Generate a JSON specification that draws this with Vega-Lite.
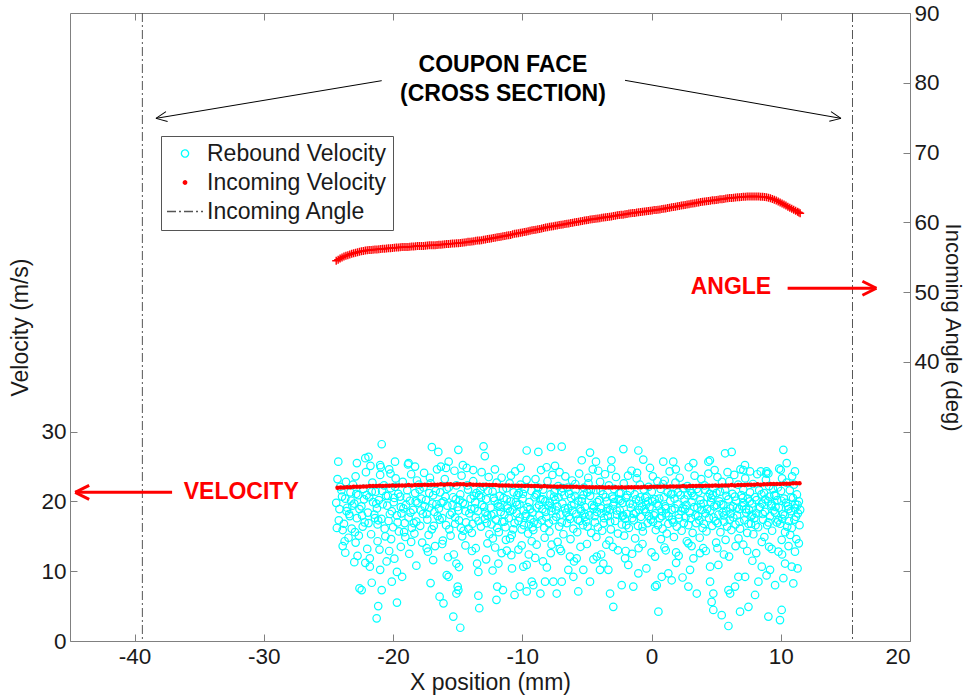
{
  "$schema": "https://vega.github.io/schema/vega-lite/v6.json",
  "width": 840,
  "height": 628,
  "autosize": {"type": "none"},
  "padding": {"left": 70, "top": 13, "right": 57, "bottom": 57},
  "background": "white",
  "config": {
    "view": {"stroke": null},
    "font": "Liberation Sans",
    "axis": {
      "grid": false,
      "domainColor": "#808080",
      "tickColor": "#808080",
      "labelColor": "#1a1a1a",
      "titleColor": "#1a1a1a",
      "labelFont": "Liberation Sans",
      "titleFont": "Liberation Sans",
      "labelFontSize": 22.5,
      "titleFontSize": 23,
      "titleFontWeight": "normal",
      "tickSize": -7,
      "labelPadding": 11,
      "labelExpr": "'' + datum.value"
    },
    "legend": {
      "labelFont": "Liberation Sans",
      "labelFontSize": 23,
      "labelColor": "#1a1a1a",
      "labelLimit": 0,
      "title": null,
      "orient": "none",
      "legendX": 91,
      "legendY": 123,
      "padding": 6,
      "strokeColor": "#555555",
      "fillColor": "white",
      "symbolSize": 1296,
      "rowPadding": 5,
      "symbolOffset": 0,
      "labelOffset": 3,
      "symbolStrokeWidth": 1.3
    }
  },
  "datasets": {
    "rebound": [
      {"x":-24.4,"v":19.8},{"x":-24.2,"v":17.3},{"x":-24.0,"v":21.6},{"x":-23.9,"v":15.9},{"x":-23.7,"v":20.4},{"x":-23.6,"v":18.6},{"x":-24.3,"v":23.2},{"x":-23.8,"v":16.8},{"x":-24.1,"v":22.1},{"x":-23.55,"v":19.1},
      {"x":-23.4,"v":18.2},{"x":-23.3,"v":21.3},{"x":-23.2,"v":16.1},{"x":-23.0,"v":19.7},{"x":-22.9,"v":23.6},{"x":-22.8,"v":17.6},{"x":-22.7,"v":20.9},{"x":-23.45,"v":14.8},{"x":-23.1,"v":22.4},{"x":-22.6,"v":18.9},{"x":-22.95,"v":15.6},{"x":-23.25,"v":20.1},
      {"x":-22.45,"v":19.3},{"x":-22.3,"v":21.8},{"x":-22.2,"v":17.0},{"x":-22.1,"v":24.2},{"x":-21.95,"v":18.4},{"x":-21.85,"v":20.6},{"x":-21.7,"v":15.3},{"x":-21.6,"v":22.7},{"x":-21.55,"v":19.9},{"x":-22.35,"v":16.4},{"x":-22.05,"v":20.9},{"x":-21.75,"v":25.1},
      {"x":-21.45,"v":18.1},{"x":-21.35,"v":21.4},{"x":-21.2,"v":16.7},{"x":-21.1,"v":20.2},{"x":-21.0,"v":23.8},{"x":-20.9,"v":17.5},{"x":-20.8,"v":19.6},{"x":-20.7,"v":22.3},{"x":-20.6,"v":15.0},{"x":-20.55,"v":20.8},{"x":-21.25,"v":19.0},{"x":-20.95,"v":24.9},{"x":-21.4,"v":17.6},
      {"x":-20.45,"v":19.4},{"x":-20.35,"v":17.2},{"x":-20.2,"v":21.9},{"x":-20.1,"v":18.6},{"x":-20.0,"v":16.3},{"x":-19.9,"v":20.5},{"x":-19.8,"v":23.3},{"x":-19.7,"v":18.0},{"x":-19.6,"v":21.1},{"x":-19.55,"v":15.7},{"x":-20.3,"v":24.6},{"x":-19.95,"v":19.9},{"x":-20.15,"v":14.6},
      {"x":-19.45,"v":20.7},{"x":-19.35,"v":18.3},{"x":-19.25,"v":22.8},{"x":-19.1,"v":16.9},{"x":-19.0,"v":19.5},{"x":-18.9,"v":21.6},{"x":-18.8,"v":17.7},{"x":-18.7,"v":20.1},{"x":-18.6,"v":23.9},{"x":-18.55,"v":16.2},{"x":-19.2,"v":19.0},{"x":-18.85,"v":25.3},{"x":-19.05,"v":14.9},
      {"x":-18.45,"v":18.8},{"x":-18.3,"v":21.2},{"x":-18.2,"v":17.1},{"x":-18.1,"v":19.8},{"x":-18.0,"v":22.4},{"x":-17.9,"v":16.5},{"x":-17.8,"v":20.4},{"x":-17.7,"v":18.2},{"x":-17.6,"v":24.1},{"x":-17.55,"v":19.3},{"x":-18.35,"v":15.4},{"x":-17.95,"v":21.7},{"x":-18.15,"v":23.0},
      {"x":-17.45,"v":20.2},{"x":-17.35,"v":17.4},{"x":-17.2,"v":19.1},{"x":-17.1,"v":22.6},{"x":-17.0,"v":16.0},{"x":-16.9,"v":20.9},{"x":-16.8,"v":18.5},{"x":-16.7,"v":21.5},{"x":-16.6,"v":24.6},{"x":-16.55,"v":17.9},{"x":-17.25,"v":15.2},{"x":-16.95,"v":19.7},{"x":-17.15,"v":23.4},
      {"x":-16.45,"v":19.0},{"x":-16.35,"v":21.3},{"x":-16.2,"v":17.6},{"x":-16.1,"v":20.0},{"x":-16.0,"v":23.2},{"x":-15.9,"v":16.6},{"x":-15.8,"v":19.4},{"x":-15.7,"v":22.0},{"x":-15.6,"v":18.1},{"x":-15.55,"v":15.1},{"x":-16.3,"v":25.0},{"x":-15.95,"v":20.7},{"x":-16.15,"v":14.4},
      {"x":-15.45,"v":18.4},{"x":-15.35,"v":20.6},{"x":-15.2,"v":16.8},{"x":-15.1,"v":22.3},{"x":-15.0,"v":19.2},{"x":-14.9,"v":17.3},{"x":-14.8,"v":21.0},{"x":-14.7,"v":23.7},{"x":-14.6,"v":19.8},{"x":-14.55,"v":15.8},{"x":-15.25,"v":24.4},{"x":-14.95,"v":18.7},{"x":-15.15,"v":20.3},{"x":-14.75,"v":16.2},
      {"x":-14.45,"v":19.6},{"x":-14.35,"v":17.0},{"x":-14.2,"v":21.7},{"x":-14.1,"v":18.3},{"x":-14.0,"v":20.4},{"x":-13.9,"v":15.5},{"x":-13.8,"v":22.9},{"x":-13.7,"v":19.0},{"x":-13.6,"v":17.7},{"x":-13.55,"v":21.2},{"x":-14.3,"v":24.8},{"x":-13.95,"v":18.9},{"x":-14.15,"v":16.1},{"x":-13.75,"v":20.8},
      {"x":-13.45,"v":18.6},{"x":-13.35,"v":20.9},{"x":-13.2,"v":16.4},{"x":-13.1,"v":19.5},{"x":-13.0,"v":22.1},{"x":-12.9,"v":17.5},{"x":-12.8,"v":20.3},{"x":-12.7,"v":18.0},{"x":-12.6,"v":23.5},{"x":-12.55,"v":15.3},{"x":-13.25,"v":21.6},{"x":-12.95,"v":19.2},{"x":-13.15,"v":24.2},{"x":-12.75,"v":16.9},
      {"x":-12.45,"v":19.1},{"x":-12.38,"v":16.7},{"x":-12.3,"v":21.4},{"x":-12.22,"v":18.2},{"x":-12.15,"v":20.1},{"x":-12.05,"v":17.4},{"x":-11.98,"v":22.7},{"x":-11.9,"v":19.7},{"x":-11.82,"v":15.6},{"x":-11.75,"v":20.8},{"x":-11.67,"v":18.5},{"x":-11.6,"v":23.4},{"x":-11.55,"v":17.1},{"x":-12.12,"v":24.6},{"x":-11.85,"v":19.3},{"x":-12.28,"v":14.7},
      {"x":-11.45,"v":20.5},{"x":-11.38,"v":18.1},{"x":-11.3,"v":16.3},{"x":-11.22,"v":21.9},{"x":-11.15,"v":19.4},{"x":-11.05,"v":17.6},{"x":-10.98,"v":22.6},{"x":-10.9,"v":20.0},{"x":-10.82,"v":15.2},{"x":-10.75,"v":18.8},{"x":-10.67,"v":21.3},{"x":-10.6,"v":16.9},{"x":-10.55,"v":24.3},{"x":-11.12,"v":19.0},{"x":-10.88,"v":23.7},{"x":-11.27,"v":14.5},
      {"x":-10.45,"v":18.3},{"x":-10.38,"v":20.9},{"x":-10.3,"v":17.2},{"x":-10.22,"v":19.6},{"x":-10.15,"v":22.4},{"x":-10.05,"v":16.0},{"x":-9.98,"v":20.4},{"x":-9.9,"v":18.7},{"x":-9.82,"v":21.8},{"x":-9.75,"v":17.9},{"x":-9.67,"v":23.1},{"x":-9.6,"v":19.2},{"x":-9.55,"v":15.4},{"x":-10.12,"v":24.8},{"x":-9.88,"v":16.6},{"x":-10.27,"v":21.2},
      {"x":-9.45,"v":19.9},{"x":-9.38,"v":17.5},{"x":-9.3,"v":21.5},{"x":-9.22,"v":18.4},{"x":-9.15,"v":15.9},{"x":-9.05,"v":20.6},{"x":-8.98,"v":23.2},{"x":-8.9,"v":19.1},{"x":-8.82,"v":16.8},{"x":-8.75,"v":22.0},{"x":-8.67,"v":18.0},{"x":-8.6,"v":20.3},{"x":-8.55,"v":24.5},{"x":-9.12,"v":17.0},{"x":-8.88,"v":21.1},{"x":-9.27,"v":14.3},
      {"x":-8.45,"v":18.9},{"x":-8.38,"v":21.7},{"x":-8.3,"v":16.2},{"x":-8.22,"v":20.0},{"x":-8.15,"v":17.7},{"x":-8.05,"v":22.9},{"x":-7.98,"v":19.4},{"x":-7.9,"v":15.7},{"x":-7.82,"v":21.0},{"x":-7.75,"v":18.6},{"x":-7.67,"v":23.8},{"x":-7.6,"v":17.3},{"x":-7.55,"v":20.7},{"x":-8.12,"v":24.9},{"x":-7.88,"v":19.8},{"x":-8.27,"v":14.8},
      {"x":-7.45,"v":20.2},{"x":-7.38,"v":17.8},{"x":-7.3,"v":19.3},{"x":-7.22,"v":22.2},{"x":-7.15,"v":16.4},{"x":-7.05,"v":18.1},{"x":-6.98,"v":21.4},{"x":-6.9,"v":19.7},{"x":-6.82,"v":15.3},{"x":-6.75,"v":20.9},{"x":-6.67,"v":23.6},{"x":-6.6,"v":18.4},{"x":-6.55,"v":16.9},{"x":-7.12,"v":24.2},{"x":-6.88,"v":21.9},{"x":-7.27,"v":14.2},
      {"x":-6.45,"v":19.0},{"x":-6.38,"v":21.1},{"x":-6.3,"v":17.5},{"x":-6.22,"v":20.5},{"x":-6.15,"v":23.0},{"x":-6.05,"v":16.1},{"x":-5.98,"v":19.6},{"x":-5.9,"v":22.5},{"x":-5.82,"v":18.2},{"x":-5.75,"v":15.6},{"x":-5.67,"v":20.1},{"x":-5.6,"v":24.0},{"x":-5.55,"v":17.2},{"x":-6.12,"v":18.7},{"x":-5.88,"v":21.6},{"x":-6.27,"v":14.6},
      {"x":-5.45,"v":18.6},{"x":-5.38,"v":20.4},{"x":-5.3,"v":16.6},{"x":-5.22,"v":22.0},{"x":-5.15,"v":19.2},{"x":-5.05,"v":17.1},{"x":-4.98,"v":21.3},{"x":-4.9,"v":23.4},{"x":-4.82,"v":18.0},{"x":-4.75,"v":20.8},{"x":-4.67,"v":15.5},{"x":-4.6,"v":19.5},{"x":-4.55,"v":24.6},{"x":-5.12,"v":17.8},{"x":-4.88,"v":22.6},{"x":-5.27,"v":20.9},
      {"x":-4.45,"v":19.3},{"x":-4.38,"v":17.0},{"x":-4.3,"v":21.6},{"x":-4.22,"v":18.5},{"x":-4.15,"v":16.3},{"x":-4.05,"v":20.2},{"x":-3.98,"v":22.8},{"x":-3.9,"v":19.0},{"x":-3.82,"v":15.8},{"x":-3.75,"v":21.0},{"x":-3.67,"v":17.6},{"x":-3.6,"v":23.9},{"x":-3.55,"v":20.6},{"x":-4.12,"v":24.4},{"x":-3.88,"v":18.3},{"x":-4.27,"v":14.9},
      {"x":-3.45,"v":20.0},{"x":-3.38,"v":17.9},{"x":-3.3,"v":22.3},{"x":-3.22,"v":18.8},{"x":-3.15,"v":16.0},{"x":-3.05,"v":20.7},{"x":-2.98,"v":19.4},{"x":-2.9,"v":21.8},{"x":-2.82,"v":17.2},{"x":-2.75,"v":23.5},{"x":-2.67,"v":18.1},{"x":-2.6,"v":15.4},{"x":-2.55,"v":20.3},{"x":-3.12,"v":24.7},{"x":-2.88,"v":19.9},{"x":-3.27,"v":14.4},
      {"x":-2.45,"v":18.7},{"x":-2.38,"v":21.2},{"x":-2.3,"v":16.7},{"x":-2.22,"v":19.8},{"x":-2.15,"v":22.6},{"x":-2.05,"v":17.5},{"x":-1.98,"v":20.5},{"x":-1.9,"v":18.2},{"x":-1.82,"v":23.7},{"x":-1.75,"v":16.2},{"x":-1.67,"v":21.5},{"x":-1.6,"v":19.1},{"x":-1.55,"v":24.4},{"x":-2.12,"v":15.1},{"x":-1.88,"v":20.9},{"x":-2.27,"v":17.9},
      {"x":-1.45,"v":19.6},{"x":-1.38,"v":17.3},{"x":-1.3,"v":21.0},{"x":-1.22,"v":18.4},{"x":-1.15,"v":23.3},{"x":-1.05,"v":16.5},{"x":-0.98,"v":20.1},{"x":-0.9,"v":22.4},{"x":-0.82,"v":17.8},{"x":-0.75,"v":19.3},{"x":-0.67,"v":15.7},{"x":-0.6,"v":21.7},{"x":-0.55,"v":18.9},{"x":-1.12,"v":24.1},{"x":-0.88,"v":20.6},{"x":-1.27,"v":14.7},
      {"x":-0.45,"v":18.5},{"x":-0.38,"v":20.7},{"x":-0.3,"v":16.9},{"x":-0.22,"v":22.1},{"x":-0.15,"v":19.2},{"x":-0.05,"v":17.4},{"x":0.02,"v":21.4},{"x":0.1,"v":23.6},{"x":0.18,"v":18.0},{"x":0.25,"v":20.3},{"x":0.33,"v":15.9},{"x":0.4,"v":19.7},{"x":0.45,"v":22.9},{"x":-0.12,"v":24.8},{"x":0.12,"v":17.1},{"x":-0.27,"v":20.0},
      {"x":0.55,"v":19.4},{"x":0.62,"v":17.6},{"x":0.7,"v":21.8},{"x":0.78,"v":18.6},{"x":0.85,"v":16.1},{"x":0.95,"v":20.6},{"x":1.02,"v":23.0},{"x":1.1,"v":19.0},{"x":1.18,"v":15.4},{"x":1.25,"v":21.3},{"x":1.33,"v":17.9},{"x":1.4,"v":24.3},{"x":1.45,"v":20.1},{"x":0.88,"v":22.5},{"x":1.12,"v":18.3},{"x":0.73,"v":14.6},
      {"x":1.55,"v":18.8},{"x":1.62,"v":21.1},{"x":1.7,"v":17.0},{"x":1.78,"v":20.4},{"x":1.85,"v":22.7},{"x":1.95,"v":16.4},{"x":2.02,"v":19.6},{"x":2.1,"v":18.1},{"x":2.18,"v":23.4},{"x":2.25,"v":20.9},{"x":2.33,"v":15.8},{"x":2.4,"v":19.1},{"x":2.45,"v":21.9},{"x":1.88,"v":24.6},{"x":2.12,"v":17.6},{"x":1.73,"v":14.9},
      {"x":2.55,"v":20.3},{"x":2.62,"v":17.7},{"x":2.7,"v":19.5},{"x":2.78,"v":22.2},{"x":2.85,"v":16.6},{"x":2.95,"v":18.4},{"x":3.02,"v":21.5},{"x":3.1,"v":19.9},{"x":3.18,"v":15.5},{"x":3.25,"v":20.8},{"x":3.33,"v":23.7},{"x":3.4,"v":18.0},{"x":3.45,"v":16.9},{"x":2.88,"v":24.9},{"x":3.12,"v":21.2},{"x":2.73,"v":14.3},
      {"x":3.55,"v":19.1},{"x":3.62,"v":21.4},{"x":3.7,"v":17.3},{"x":3.78,"v":20.2},{"x":3.85,"v":23.2},{"x":3.95,"v":16.2},{"x":4.02,"v":19.7},{"x":4.1,"v":22.3},{"x":4.18,"v":18.3},{"x":4.25,"v":15.7},{"x":4.33,"v":20.6},{"x":4.4,"v":24.0},{"x":4.45,"v":17.6},{"x":3.88,"v":18.8},{"x":4.12,"v":21.7},{"x":3.73,"v":14.8},
      {"x":4.55,"v":18.7},{"x":4.62,"v":20.5},{"x":4.7,"v":16.5},{"x":4.78,"v":21.9},{"x":4.85,"v":19.3},{"x":4.95,"v":17.2},{"x":5.02,"v":21.2},{"x":5.1,"v":23.5},{"x":5.18,"v":18.1},{"x":5.25,"v":20.0},{"x":5.33,"v":15.6},{"x":5.4,"v":19.6},{"x":5.45,"v":22.8},{"x":4.88,"v":24.5},{"x":5.12,"v":16.9},{"x":4.73,"v":20.9},
      {"x":5.55,"v":19.5},{"x":5.62,"v":17.1},{"x":5.7,"v":21.6},{"x":5.78,"v":18.6},{"x":5.85,"v":16.4},{"x":5.95,"v":20.3},{"x":6.02,"v":22.9},{"x":6.1,"v":19.0},{"x":6.18,"v":15.9},{"x":6.25,"v":21.1},{"x":6.33,"v":17.7},{"x":6.4,"v":23.8},{"x":6.45,"v":20.7},{"x":5.88,"v":24.2},{"x":6.12,"v":18.2},{"x":5.73,"v":14.5},
      {"x":6.55,"v":20.1},{"x":6.62,"v":18.0},{"x":6.7,"v":22.4},{"x":6.78,"v":18.9},{"x":6.85,"v":16.1},{"x":6.95,"v":20.9},{"x":7.02,"v":19.3},{"x":7.1,"v":21.7},{"x":7.18,"v":17.3},{"x":7.25,"v":23.3},{"x":7.33,"v":18.4},{"x":7.4,"v":15.5},{"x":7.45,"v":20.4},{"x":6.88,"v":24.6},{"x":7.12,"v":19.8},{"x":6.73,"v":14.7},
      {"x":7.55,"v":18.8},{"x":7.62,"v":21.3},{"x":7.7,"v":16.8},{"x":7.78,"v":19.7},{"x":7.85,"v":22.5},{"x":7.95,"v":17.6},{"x":8.02,"v":20.6},{"x":8.1,"v":18.3},{"x":8.18,"v":23.9},{"x":8.25,"v":16.3},{"x":8.33,"v":21.6},{"x":8.4,"v":19.2},{"x":8.45,"v":24.3},{"x":7.88,"v":15.3},{"x":8.12,"v":20.2},{"x":7.73,"v":17.9},
      {"x":8.55,"v":19.7},{"x":8.62,"v":17.4},{"x":8.7,"v":21.2},{"x":8.78,"v":18.5},{"x":8.85,"v":23.1},{"x":8.95,"v":16.6},{"x":9.02,"v":20.0},{"x":9.1,"v":22.2},{"x":9.18,"v":17.9},{"x":9.25,"v":19.4},{"x":9.33,"v":15.8},{"x":9.4,"v":21.8},{"x":9.45,"v":18.7},{"x":8.88,"v":24.0},{"x":9.12,"v":20.7},{"x":8.73,"v":14.9},
      {"x":9.55,"v":18.4},{"x":9.62,"v":20.8},{"x":9.7,"v":17.0},{"x":9.78,"v":22.0},{"x":9.85,"v":19.1},{"x":9.95,"v":16.8},{"x":10.02,"v":21.5},{"x":10.1,"v":23.3},{"x":10.18,"v":18.2},{"x":10.25,"v":20.4},{"x":10.33,"v":15.6},{"x":10.4,"v":19.8},{"x":10.45,"v":22.7},{"x":9.88,"v":24.7},{"x":10.12,"v":17.5},{"x":9.73,"v":20.2},
      {"x":10.55,"v":19.3},{"x":10.62,"v":17.2},{"x":10.7,"v":21.6},{"x":10.78,"v":18.6},{"x":10.85,"v":16.2},{"x":10.95,"v":20.5},{"x":11.02,"v":22.4},{"x":11.1,"v":19.0},{"x":11.18,"v":17.8},{"x":11.25,"v":21.0},{"x":11.33,"v":18.3},{"x":11.4,"v":20.0},{"x":11.45,"v":16.6},{"x":10.88,"v":23.6},{"x":11.12,"v":19.6},{"x":10.73,"v":15.2},
      {"x":-24.35,"v":16.2},{"x":-24.15,"v":18.9},{"x":-23.95,"v":20.7},{"x":-23.75,"v":14.3},{"x":-23.65,"v":22.8},
      {"x":-23.35,"v":17.9},{"x":-23.15,"v":19.4},{"x":-22.85,"v":21.1},{"x":-22.65,"v":15.1},{"x":-22.75,"v":12.2},
      {"x":-22.4,"v":18.0},{"x":-22.25,"v":20.3},{"x":-21.9,"v":16.9},{"x":-21.65,"v":21.4},{"x":-22.15,"v":11.2},
      {"x":-21.3,"v":19.7},{"x":-21.15,"v":17.3},{"x":-20.85,"v":21.5},{"x":-20.65,"v":16.1},{"x":-21.05,"v":13.1},
      {"x":-20.4,"v":20.8},{"x":-20.25,"v":18.2},{"x":-19.85,"v":22.1},{"x":-19.65,"v":17.0},{"x":-19.9,"v":11.8},
      {"x":-19.4,"v":19.2},{"x":-19.15,"v":15.6},{"x":-18.95,"v":20.6},{"x":-18.65,"v":18.4},{"x":-18.75,"v":12.5},
      {"x":-18.4,"v":16.9},{"x":-18.25,"v":20.0},{"x":-17.85,"v":18.7},{"x":-17.65,"v":22.0},{"x":-17.75,"v":14.1},
      {"x":-17.4,"v":18.2},{"x":-17.2,"v":21.2},{"x":-16.85,"v":16.5},{"x":-16.65,"v":19.6},{"x":-16.75,"v":13.6},
      {"x":-16.4,"v":17.4},{"x":-16.25,"v":19.8},{"x":-15.85,"v":21.8},{"x":-15.65,"v":16.0},{"x":-15.75,"v":12.0},
      {"x":-15.4,"v":19.5},{"x":-15.2,"v":17.7},{"x":-14.85,"v":20.2},{"x":-14.65,"v":15.0},{"x":-14.9,"v":10.6},
      {"x":-14.4,"v":18.6},{"x":-14.25,"v":22.3},{"x":-13.85,"v":16.8},{"x":-13.65,"v":19.9},{"x":-13.9,"v":12.9},
      {"x":-13.4,"v":17.2},{"x":-13.2,"v":20.6},{"x":-12.85,"v":18.4},{"x":-12.65,"v":21.5},{"x":-12.8,"v":11.7},
      {"x":-12.4,"v":18.0},{"x":-12.2,"v":20.5},{"x":-11.95,"v":16.2},{"x":-11.7,"v":19.2},{"x":-11.5,"v":21.7},{"x":-12.1,"v":13.4},
      {"x":-11.4,"v":17.1},{"x":-11.2,"v":20.3},{"x":-10.95,"v":18.6},{"x":-10.7,"v":16.0},{"x":-10.5,"v":19.9},{"x":-10.85,"v":12.3},
      {"x":-10.4,"v":19.5},{"x":-10.2,"v":17.7},{"x":-9.95,"v":21.1},{"x":-9.7,"v":18.2},{"x":-9.5,"v":16.7},{"x":-10.05,"v":13.7},
      {"x":-9.4,"v":18.9},{"x":-9.2,"v":16.3},{"x":-8.95,"v":20.9},{"x":-8.7,"v":19.5},{"x":-8.5,"v":17.3},{"x":-9.0,"v":11.9},
      {"x":-8.4,"v":20.3},{"x":-8.2,"v":18.5},{"x":-7.95,"v":16.9},{"x":-7.7,"v":19.1},{"x":-7.5,"v":21.4},{"x":-7.8,"v":12.6},
      {"x":-7.4,"v":18.7},{"x":-7.2,"v":20.6},{"x":-6.95,"v":17.0},{"x":-6.7,"v":19.0},{"x":-6.5,"v":22.0},{"x":-7.1,"v":13.2},
      {"x":-6.4,"v":17.8},{"x":-6.2,"v":19.4},{"x":-5.95,"v":20.8},{"x":-5.7,"v":17.4},{"x":-5.5,"v":18.9},{"x":-6.0,"v":11.4},
      {"x":-5.4,"v":20.0},{"x":-5.2,"v":18.3},{"x":-4.95,"v":16.4},{"x":-4.7,"v":21.6},{"x":-4.5,"v":19.0},{"x":-5.0,"v":13.9},
      {"x":-4.4,"v":17.9},{"x":-4.2,"v":19.9},{"x":-3.95,"v":21.5},{"x":-3.7,"v":16.9},{"x":-3.5,"v":18.6},{"x":-3.9,"v":12.4},
      {"x":-3.4,"v":19.1},{"x":-3.2,"v":17.1},{"x":-2.95,"v":20.4},{"x":-2.7,"v":18.7},{"x":-2.5,"v":21.2},{"x":-3.0,"v":13.5},
      {"x":-2.4,"v":20.1},{"x":-2.2,"v":18.0},{"x":-1.95,"v":16.6},{"x":-1.7,"v":19.7},{"x":-1.5,"v":17.6},{"x":-2.0,"v":12.9},
      {"x":-1.4,"v":18.2},{"x":-1.2,"v":20.3},{"x":-0.95,"v":18.8},{"x":-0.7,"v":16.4},{"x":-0.5,"v":20.5},{"x":-1.0,"v":13.3},
      {"x":-0.4,"v":19.6},{"x":-0.2,"v":17.9},{"x":0.05,"v":20.0},{"x":0.3,"v":18.3},{"x":0.5,"v":16.6},{"x":0.0,"v":12.7},
      {"x":0.6,"v":20.4},{"x":0.8,"v":17.9},{"x":1.05,"v":19.3},{"x":1.3,"v":16.8},{"x":1.5,"v":21.0},{"x":1.1,"v":13.0},
      {"x":1.6,"v":17.4},{"x":1.8,"v":19.0},{"x":2.05,"v":21.3},{"x":2.3,"v":18.6},{"x":2.5,"v":16.9},{"x":2.1,"v":12.2},
      {"x":2.6,"v":18.9},{"x":2.8,"v":20.9},{"x":3.05,"v":17.6},{"x":3.3,"v":19.2},{"x":3.5,"v":21.8},{"x":3.1,"v":13.6},
      {"x":3.6,"v":17.9},{"x":3.8,"v":19.6},{"x":4.05,"v":16.8},{"x":4.3,"v":18.9},{"x":4.5,"v":21.1},{"x":4.2,"v":12.9},
      {"x":4.6,"v":19.9},{"x":4.8,"v":17.7},{"x":5.05,"v":19.5},{"x":5.3,"v":21.4},{"x":5.5,"v":18.4},{"x":5.1,"v":13.3},
      {"x":5.6,"v":18.0},{"x":5.8,"v":20.8},{"x":6.05,"v":17.4},{"x":6.3,"v":19.3},{"x":6.5,"v":16.7},{"x":6.0,"v":12.1},
      {"x":6.6,"v":19.1},{"x":6.8,"v":17.1},{"x":7.05,"v":20.5},{"x":7.3,"v":18.9},{"x":7.5,"v":16.8},{"x":7.1,"v":13.8},
      {"x":7.6,"v":20.0},{"x":7.8,"v":18.1},{"x":8.05,"v":16.6},{"x":8.3,"v":19.0},{"x":8.5,"v":21.0},{"x":8.1,"v":12.6},
      {"x":8.6,"v":18.2},{"x":8.8,"v":20.3},{"x":9.05,"v":17.0},{"x":9.3,"v":19.6},{"x":9.5,"v":20.9},{"x":9.1,"v":13.5},
      {"x":9.6,"v":19.2},{"x":9.8,"v":17.3},{"x":10.05,"v":20.1},{"x":10.3,"v":18.0},{"x":10.5,"v":16.4},{"x":10.1,"v":12.4},
      {"x":10.6,"v":18.9},{"x":10.8,"v":20.6},{"x":11.05,"v":17.4},{"x":11.3,"v":19.5},{"x":11.5,"v":18.8},{"x":11.2,"v":14.6},
      {"x":-24.24,"v":25.7},{"x":-20.88,"v":28.2},{"x":-17.0,"v":27.8},{"x":-16.5,"v":27.1},{"x":-14.95,"v":27.4},{"x":-13.0,"v":27.9},{"x":-12.9,"v":26.5},{"x":-9.66,"v":27.3},{"x":-8.76,"v":27.1},{"x":-7.78,"v":27.8},{"x":-6.95,"v":27.85},{"x":-4.76,"v":27.0},{"x":-5.4,"v":25.9},{"x":-2.18,"v":27.5},{"x":-1.02,"v":27.3},{"x":-0.64,"v":26.0},{"x":-3.1,"v":25.9},{"x":-7.47,"v":25.1},{"x":-4.3,"v":25.7},{"x":10.2,"v":27.4},{"x":5.69,"v":26.9},{"x":6.2,"v":27.1},{"x":4.52,"v":25.9},{"x":3.23,"v":25.5},{"x":1.68,"v":25.7},{"x":0.91,"v":25.7},{"x":10.46,"v":25.5},{"x":7.23,"v":25.2},{"x":7.62,"v":24.3},{"x":11.1,"v":24.3},{"x":9.04,"v":24.0},
      {"x":-22.8,"v":25.5},{"x":-22.15,"v":26.2},{"x":-21.9,"v":26.4},{"x":-19.85,"v":25.7},{"x":-18.8,"v":25.5},{"x":-18.3,"v":25.0},{"x":-15.9,"v":24.8},{"x":-15.7,"v":25.7},{"x":-14.6,"v":25.2},{"x":-13.8,"v":24.5},{"x":-21.0,"v":25.2},{"x":-20.2,"v":24.0},{"x":4.4,"v":25.7},{"x":7.1,"v":24.5},{"x":8.9,"v":24.3},{"x":10.0,"v":24.5},
      {"x":-23.7,"v":12.65},{"x":-23.9,"v":13.6},{"x":-22.9,"v":14.1},{"x":-22.0,"v":13.2},{"x":-21.2,"v":14.3},{"x":-20.3,"v":12.9},{"x":-19.4,"v":13.5},{"x":-18.6,"v":14.2},{"x":-17.4,"v":13.3},{"x":-17.3,"v":12.8},{"x":-16.2,"v":13.9},{"x":-15.3,"v":12.4},{"x":-14.4,"v":13.7},{"x":-13.6,"v":13.3},{"x":-12.7,"v":14.0},{"x":-11.6,"v":12.6},{"x":-10.95,"v":14.7},{"x":-10.3,"v":13.1},{"x":-9.5,"v":12.4},{"x":-8.89,"v":13.8},{"x":-7.73,"v":13.8},{"x":-7.0,"v":12.9},{"x":-6.31,"v":12.1},{"x":-5.5,"v":13.5},{"x":-4.24,"v":12.1},{"x":-3.5,"v":13.8},{"x":-2.6,"v":13.0},{"x":-1.5,"v":12.5},{"x":-0.7,"v":13.9},{"x":0.27,"v":12.1},{"x":1.0,"v":13.4},{"x":1.9,"v":12.7},{"x":2.85,"v":14.0},{"x":3.75,"v":12.6},{"x":4.0,"v":13.3},{"x":5.0,"v":14.1},{"x":5.6,"v":12.4},{"x":6.5,"v":13.6},{"x":7.4,"v":12.9},{"x":8.53,"v":14.2},{"x":9.3,"v":13.2},{"x":9.82,"v":12.8},{"x":10.07,"v":14.5},{"x":10.6,"v":13.6},{"x":11.1,"v":12.8},{"x":11.4,"v":14.0},{"x":-11.2,"v":12.95},
      {"x":-21.8,"v":11.85},{"x":-22.43,"v":7.3},{"x":-21.27,"v":3.25},{"x":-21.15,"v":5.0},{"x":-19.7,"v":5.5},{"x":-20.88,"v":7.3},{"x":-17.1,"v":8.3},{"x":-16.1,"v":5.4},{"x":-16.4,"v":6.35},{"x":-15.34,"v":3.5},{"x":-14.8,"v":1.9},{"x":-15.7,"v":9.2},{"x":-15.1,"v":11.1},{"x":-14.95,"v":7.3},{"x":-13.4,"v":6.5},{"x":-13.33,"v":4.7},{"x":-21.8,"v":10.65},{"x":-21.0,"v":10.2},{"x":-20.5,"v":11.4},{"x":-19.7,"v":9.9},{"x":-19.3,"v":9.2},{"x":-22.6,"v":7.55},{"x":-21.65,"v":8.35},{"x":-20.1,"v":8.5},{"x":-15.85,"v":9.45},{"x":-15.1,"v":6.8},{"x":-15.0,"v":7.8},{"x":-13.4,"v":9.9},{"x":-13.5,"v":11.1},
      {"x":-12.0,"v":5.9},{"x":-11.94,"v":7.8},{"x":-11.5,"v":7.3},{"x":-10.6,"v":6.6},{"x":-10.2,"v":7.8},{"x":-9.92,"v":10.65},{"x":-9.66,"v":10.9},{"x":-10.8,"v":10.4},{"x":-11.85,"v":11.1},{"x":-8.6,"v":6.8},{"x":-8.1,"v":10.55},{"x":-7.6,"v":8.5},{"x":-7.34,"v":6.8},{"x":-8.24,"v":8.5},{"x":-6.95,"v":8.5},{"x":-5.79,"v":11.85},{"x":-6.44,"v":10.2},{"x":-6.05,"v":9.2},{"x":-5.67,"v":7.1},{"x":-4.76,"v":8.5},{"x":-3.34,"v":10.2},{"x":-3.21,"v":6.8},{"x":-2.96,"v":4.9},{"x":-2.31,"v":8.0},{"x":-1.41,"v":7.8},{"x":-1.02,"v":9.7},{"x":-0.4,"v":10.4},{"x":-2.05,"v":11.85},{"x":-3.73,"v":11.1},{"x":-3.99,"v":10.2},{"x":-5.28,"v":10.2},{"x":-9.27,"v":8.5},{"x":-9.15,"v":8.0},{"x":-9.66,"v":7.1},
      {"x":0.53,"v":4.2},{"x":0.27,"v":7.8},{"x":0.4,"v":8.0},{"x":0.79,"v":9.2},{"x":1.3,"v":9.7},{"x":1.56,"v":8.7},{"x":2.85,"v":7.8},{"x":3.5,"v":6.8},{"x":2.98,"v":10.2},{"x":3.24,"v":11.85},{"x":4.53,"v":10.65},{"x":4.53,"v":8.5},{"x":4.65,"v":5.6},{"x":4.78,"v":6.8},{"x":5.17,"v":10.9},{"x":5.43,"v":3.7},{"x":5.95,"v":2.15},{"x":6.08,"v":6.8},{"x":6.46,"v":7.8},{"x":6.72,"v":9.2},{"x":6.85,"v":4.2},{"x":7.24,"v":9.2},{"x":7.5,"v":4.9},{"x":8.01,"v":6.6},{"x":8.27,"v":8.5},{"x":8.53,"v":10.65},{"x":9.04,"v":3.5},{"x":9.17,"v":10.2},{"x":9.56,"v":8.0},{"x":9.94,"v":3.0},{"x":10.07,"v":4.45},{"x":10.2,"v":9.0},{"x":10.33,"v":11.1},{"x":10.97,"v":8.25},{"x":10.85,"v":10.65},{"x":4.78,"v":4.45},{"x":5.95,"v":7.3},
      {"x":-23.0,"v":11.3},{"x":-18.2,"v":10.8},{"x":-16.9,"v":11.6},{"x":-12.3,"v":10.1},{"x":-8.4,"v":11.4},{"x":-4.5,"v":11.7},{"x":-1.8,"v":10.9},{"x":1.9,"v":11.2},{"x":2.4,"v":9.1},{"x":7.8,"v":11.5},{"x":8.9,"v":9.4},{"x":11.3,"v":10.4}
    ],
    "incoming": [
      {"x":-24.3,"v":21.95},{"x":-24.05,"v":22.0},{"x":-23.8,"v":22.0},{"x":-23.55,"v":22.05},{"x":-23.3,"v":22.05},{"x":-23.05,"v":22.1},{"x":-22.8,"v":22.1},{"x":-22.55,"v":22.1},{"x":-22.3,"v":22.15},{"x":-22.05,"v":22.15},{"x":-21.8,"v":22.2},{"x":-21.55,"v":22.2},{"x":-21.3,"v":22.2},{"x":-21.05,"v":22.25},{"x":-20.8,"v":22.2},{"x":-20.55,"v":22.25},{"x":-20.3,"v":22.25},{"x":-20.05,"v":22.3},{"x":-19.8,"v":22.25},{"x":-19.55,"v":22.3},{"x":-19.3,"v":22.3},{"x":-19.05,"v":22.3},{"x":-18.8,"v":22.35},{"x":-18.55,"v":22.3},{"x":-18.3,"v":22.35},{"x":-18.05,"v":22.35},{"x":-17.8,"v":22.35},{"x":-17.55,"v":22.4},{"x":-17.3,"v":22.35},{"x":-17.05,"v":22.4},{"x":-16.8,"v":22.4},{"x":-16.55,"v":22.4},{"x":-16.3,"v":22.45},{"x":-16.05,"v":22.4},{"x":-15.8,"v":22.45},{"x":-15.55,"v":22.45},{"x":-15.3,"v":22.4},{"x":-15.05,"v":22.45},{"x":-14.8,"v":22.45},{"x":-14.55,"v":22.45},{"x":-14.3,"v":22.4},{"x":-14.05,"v":22.45},{"x":-13.8,"v":22.4},{"x":-13.55,"v":22.4},{"x":-13.3,"v":22.4},{"x":-13.05,"v":22.35},{"x":-12.8,"v":22.4},{"x":-12.55,"v":22.35},{"x":-12.3,"v":22.35},{"x":-12.05,"v":22.35},{"x":-11.8,"v":22.3},{"x":-11.55,"v":22.3},{"x":-11.3,"v":22.3},{"x":-11.05,"v":22.3},{"x":-10.8,"v":22.25},{"x":-10.55,"v":22.25},{"x":-10.3,"v":22.25},{"x":-10.05,"v":22.25},{"x":-9.8,"v":22.2},{"x":-9.55,"v":22.25},{"x":-9.3,"v":22.2},{"x":-9.05,"v":22.2},{"x":-8.8,"v":22.2},{"x":-8.55,"v":22.15},{"x":-8.3,"v":22.2},{"x":-8.05,"v":22.15},{"x":-7.8,"v":22.15},{"x":-7.55,"v":22.15},{"x":-7.3,"v":22.1},{"x":-7.05,"v":22.15},{"x":-6.8,"v":22.1},{"x":-6.55,"v":22.1},{"x":-6.3,"v":22.1},{"x":-6.05,"v":22.1},{"x":-5.8,"v":22.1},{"x":-5.55,"v":22.05},{"x":-5.3,"v":22.1},{"x":-5.05,"v":22.05},{"x":-4.8,"v":22.05},{"x":-4.55,"v":22.05},{"x":-4.3,"v":22.05},{"x":-4.05,"v":22.05},{"x":-3.8,"v":22.05},{"x":-3.55,"v":22.0},{"x":-3.3,"v":22.05},{"x":-3.05,"v":22.0},{"x":-2.8,"v":22.05},{"x":-2.55,"v":22.0},{"x":-2.3,"v":22.05},{"x":-2.05,"v":22.0},{"x":-1.8,"v":22.05},{"x":-1.55,"v":22.05},{"x":-1.3,"v":22.05},{"x":-1.05,"v":22.05},{"x":-0.8,"v":22.05},{"x":-0.55,"v":22.1},{"x":-0.3,"v":22.05},{"x":-0.05,"v":22.1},{"x":0.2,"v":22.1},{"x":0.45,"v":22.1},{"x":0.7,"v":22.1},{"x":0.95,"v":22.15},{"x":1.2,"v":22.1},{"x":1.45,"v":22.15},{"x":1.7,"v":22.15},{"x":1.95,"v":22.15},{"x":2.2,"v":22.15},{"x":2.45,"v":22.2},{"x":2.7,"v":22.15},{"x":2.95,"v":22.2},{"x":3.2,"v":22.2},{"x":3.45,"v":22.2},{"x":3.7,"v":22.25},{"x":3.95,"v":22.2},{"x":4.2,"v":22.25},{"x":4.45,"v":22.25},{"x":4.7,"v":22.25},{"x":4.95,"v":22.3},{"x":5.2,"v":22.25},{"x":5.45,"v":22.3},{"x":5.7,"v":22.3},{"x":5.95,"v":22.3},{"x":6.2,"v":22.35},{"x":6.45,"v":22.3},{"x":6.7,"v":22.35},{"x":6.95,"v":22.35},{"x":7.2,"v":22.35},{"x":7.45,"v":22.4},{"x":7.7,"v":22.4},{"x":7.95,"v":22.4},{"x":8.2,"v":22.45},{"x":8.45,"v":22.4},{"x":8.7,"v":22.45},{"x":8.95,"v":22.45},{"x":9.2,"v":22.5},{"x":9.45,"v":22.5},{"x":9.7,"v":22.5},{"x":9.95,"v":22.5},{"x":10.2,"v":22.55},{"x":10.45,"v":22.55},{"x":10.7,"v":22.55},{"x":10.95,"v":22.6},{"x":11.2,"v":22.6},{"x":11.45,"v":22.6}
    ],
    "angle": [
      {"x":-24.4,"a":54.5},{"x":-24.25,"a":54.65},{"x":-24.1,"a":54.8},{"x":-23.95,"a":54.95},{"x":-23.8,"a":55.1},{"x":-23.65,"a":55.2},{"x":-23.5,"a":55.3},{"x":-23.35,"a":55.4},{"x":-23.2,"a":55.5},{"x":-23.05,"a":55.58},{"x":-22.9,"a":55.65},{"x":-22.75,"a":55.72},{"x":-22.6,"a":55.8},{"x":-22.45,"a":55.85},{"x":-22.3,"a":55.9},{"x":-22.15,"a":55.95},{"x":-22.0,"a":56.0},{"x":-21.85,"a":56.02},{"x":-21.7,"a":56.05},{"x":-21.55,"a":56.08},{"x":-21.4,"a":56.1},{"x":-21.25,"a":56.12},{"x":-21.1,"a":56.15},{"x":-20.95,"a":56.18},{"x":-20.8,"a":56.2},{"x":-20.65,"a":56.22},{"x":-20.5,"a":56.25},{"x":-20.35,"a":56.28},{"x":-20.2,"a":56.3},{"x":-20.05,"a":56.32},{"x":-19.9,"a":56.35},{"x":-19.75,"a":56.38},{"x":-19.6,"a":56.4},{"x":-19.45,"a":56.42},{"x":-19.3,"a":56.45},{"x":-19.15,"a":56.45},{"x":-19.0,"a":56.45},{"x":-18.85,"a":56.48},{"x":-18.7,"a":56.5},{"x":-18.55,"a":56.52},{"x":-18.4,"a":56.55},{"x":-18.25,"a":56.58},{"x":-18.1,"a":56.6},{"x":-17.95,"a":56.6},{"x":-17.8,"a":56.6},{"x":-17.65,"a":56.62},{"x":-17.5,"a":56.65},{"x":-17.35,"a":56.68},{"x":-17.2,"a":56.7},{"x":-17.05,"a":56.7},{"x":-16.9,"a":56.7},{"x":-16.75,"a":56.72},{"x":-16.6,"a":56.75},{"x":-16.45,"a":56.78},{"x":-16.3,"a":56.8},{"x":-16.15,"a":56.82},{"x":-16.0,"a":56.85},{"x":-15.85,"a":56.88},{"x":-15.7,"a":56.9},{"x":-15.55,"a":56.92},{"x":-15.4,"a":56.95},{"x":-15.25,"a":56.98},{"x":-15.1,"a":57.0},{"x":-14.95,"a":57.02},{"x":-14.8,"a":57.05},{"x":-14.65,"a":57.08},{"x":-14.5,"a":57.1},{"x":-14.35,"a":57.15},{"x":-14.2,"a":57.2},{"x":-14.05,"a":57.22},{"x":-13.9,"a":57.25},{"x":-13.75,"a":57.3},{"x":-13.6,"a":57.35},{"x":-13.45,"a":57.38},{"x":-13.3,"a":57.4},{"x":-13.15,"a":57.45},{"x":-13.0,"a":57.5},{"x":-12.85,"a":57.55},{"x":-12.7,"a":57.6},{"x":-12.55,"a":57.65},{"x":-12.4,"a":57.7},{"x":-12.25,"a":57.75},{"x":-12.1,"a":57.8},{"x":-11.95,"a":57.85},{"x":-11.8,"a":57.9},{"x":-11.65,"a":57.95},{"x":-11.5,"a":58.0},{"x":-11.35,"a":58.05},{"x":-11.2,"a":58.1},{"x":-11.05,"a":58.15},{"x":-10.9,"a":58.2},{"x":-10.75,"a":58.28},{"x":-10.6,"a":58.35},{"x":-10.45,"a":58.4},{"x":-10.3,"a":58.45},{"x":-10.15,"a":58.5},{"x":-10.0,"a":58.55},{"x":-9.85,"a":58.6},{"x":-9.7,"a":58.65},{"x":-9.55,"a":58.72},{"x":-9.4,"a":58.8},{"x":-9.25,"a":58.85},{"x":-9.1,"a":58.9},{"x":-8.95,"a":58.95},{"x":-8.8,"a":59.0},{"x":-8.65,"a":59.05},{"x":-8.5,"a":59.1},{"x":-8.35,"a":59.18},{"x":-8.2,"a":59.25},{"x":-8.05,"a":59.3},{"x":-7.9,"a":59.35},{"x":-7.75,"a":59.4},{"x":-7.6,"a":59.45},{"x":-7.45,"a":59.5},{"x":-7.3,"a":59.55},{"x":-7.15,"a":59.6},{"x":-7.0,"a":59.65},{"x":-6.85,"a":59.7},{"x":-6.7,"a":59.75},{"x":-6.55,"a":59.8},{"x":-6.4,"a":59.85},{"x":-6.25,"a":59.9},{"x":-6.1,"a":59.95},{"x":-5.95,"a":60.0},{"x":-5.8,"a":60.05},{"x":-5.65,"a":60.1},{"x":-5.5,"a":60.15},{"x":-5.35,"a":60.2},{"x":-5.2,"a":60.25},{"x":-5.05,"a":60.3},{"x":-4.9,"a":60.35},{"x":-4.75,"a":60.4},{"x":-4.6,"a":60.45},{"x":-4.45,"a":60.48},{"x":-4.3,"a":60.5},{"x":-4.15,"a":60.55},{"x":-4.0,"a":60.6},{"x":-3.85,"a":60.65},{"x":-3.7,"a":60.7},{"x":-3.55,"a":60.72},{"x":-3.4,"a":60.75},{"x":-3.25,"a":60.8},{"x":-3.1,"a":60.85},{"x":-2.95,"a":60.9},{"x":-2.8,"a":60.95},{"x":-2.65,"a":61.0},{"x":-2.5,"a":61.05},{"x":-2.35,"a":61.08},{"x":-2.2,"a":61.1},{"x":-2.05,"a":61.15},{"x":-1.9,"a":61.2},{"x":-1.75,"a":61.25},{"x":-1.6,"a":61.3},{"x":-1.45,"a":61.32},{"x":-1.3,"a":61.35},{"x":-1.15,"a":61.4},{"x":-1.0,"a":61.45},{"x":-0.85,"a":61.48},{"x":-0.7,"a":61.5},{"x":-0.55,"a":61.55},{"x":-0.4,"a":61.6},{"x":-0.25,"a":61.62},{"x":-0.1,"a":61.65},{"x":0.05,"a":61.7},{"x":0.2,"a":61.75},{"x":0.35,"a":61.78},{"x":0.5,"a":61.8},{"x":0.65,"a":61.85},{"x":0.8,"a":61.9},{"x":0.95,"a":61.95},{"x":1.1,"a":62.0},{"x":1.25,"a":62.05},{"x":1.4,"a":62.1},{"x":1.55,"a":62.15},{"x":1.7,"a":62.2},{"x":1.85,"a":62.25},{"x":2.0,"a":62.3},{"x":2.15,"a":62.35},{"x":2.3,"a":62.4},{"x":2.45,"a":62.45},{"x":2.6,"a":62.5},{"x":2.75,"a":62.55},{"x":2.9,"a":62.6},{"x":3.05,"a":62.65},{"x":3.2,"a":62.7},{"x":3.35,"a":62.75},{"x":3.5,"a":62.8},{"x":3.65,"a":62.85},{"x":3.8,"a":62.9},{"x":3.95,"a":62.95},{"x":4.1,"a":63.0},{"x":4.25,"a":63.02},{"x":4.4,"a":63.05},{"x":4.55,"a":63.1},{"x":4.7,"a":63.15},{"x":4.85,"a":63.18},{"x":5.0,"a":63.2},{"x":5.15,"a":63.25},{"x":5.3,"a":63.3},{"x":5.45,"a":63.32},{"x":5.6,"a":63.35},{"x":5.75,"a":63.4},{"x":5.9,"a":63.45},{"x":6.05,"a":63.48},{"x":6.2,"a":63.5},{"x":6.35,"a":63.52},{"x":6.5,"a":63.55},{"x":6.65,"a":63.58},{"x":6.8,"a":63.6},{"x":6.95,"a":63.62},{"x":7.1,"a":63.65},{"x":7.25,"a":63.68},{"x":7.4,"a":63.7},{"x":7.55,"a":63.7},{"x":7.7,"a":63.7},{"x":7.85,"a":63.7},{"x":8.0,"a":63.7},{"x":8.15,"a":63.7},{"x":8.3,"a":63.7},{"x":8.45,"a":63.68},{"x":8.6,"a":63.65},{"x":8.75,"a":63.62},{"x":8.9,"a":63.6},{"x":9.05,"a":63.53},{"x":9.2,"a":63.45},{"x":9.35,"a":63.35},{"x":9.5,"a":63.25},{"x":9.65,"a":63.13},{"x":9.8,"a":63.0},{"x":9.95,"a":62.85},{"x":10.1,"a":62.7},{"x":10.25,"a":62.55},{"x":10.4,"a":62.4},{"x":10.55,"a":62.25},{"x":10.7,"a":62.1},{"x":10.85,"a":61.95},{"x":11.0,"a":61.8},{"x":11.15,"a":61.65},{"x":11.3,"a":61.5},{"x":11.4,"a":61.4},{"x":11.5,"a":61.3}
    ],
    "faces": [{"x": -39.4}, {"x": 15.55}]
  },
  "layer": [
    {
      "layer": [
        {
          "data": {"name": "rebound"},
          "mark": {"type": "point", "shape": "circle", "filled": false, "size": 56, "strokeWidth": 1.2, "opacity": 1},
          "encoding": {
            "x": {"field": "x", "type": "quantitative",
                  "scale": {"domain": [-45, 20], "nice": false, "zero": false},
                  "axis": {"orient": "bottom", "values": [-40, -30, -20, -10, 0, 10, 20], "title": "X position (mm)", "titlePadding": 4}},
            "y": {"field": "v", "type": "quantitative",
                  "scale": {"domain": [0, 90], "nice": false, "zero": false},
                  "axis": {"orient": "left", "values": [0, 10, 20, 30], "title": "Velocity (m/s)", "titlePadding": 8}},
            "color": {"datum": "Rebound Velocity", "type": "nominal",
                      "scale": {"domain": ["Rebound Velocity", "Incoming Velocity", "Incoming Angle"], "range": ["#00ffff", "#ff0000", "#555555"]},
                      "legend": {
                        "symbolSize": 1296, "labelOffset": 17,
                        "encode": {
                          "symbols": {
                            "update": {
                              "shape": {"signal": "datum.value === 'Incoming Angle' ? 'stroke' : 'circle'"},
                              "size": {"signal": "datum.value === 'Incoming Angle' ? 1296 : datum.value === 'Rebound Velocity' ? 52 : 12"},
                              "xc": {"signal": "18"},
                              "fill": {"signal": "datum.value === 'Incoming Velocity' ? '#ff0000' : 'transparent'"},
                              "fillOpacity": {"signal": "datum.value === 'Incoming Velocity' ? 1 : 0"},
                              "stroke": {"signal": "datum.value === 'Rebound Velocity' ? '#00ffff' : datum.value === 'Incoming Velocity' ? '#ff0000' : '#555555'"},
                              "strokeDash": {"signal": "datum.value === 'Incoming Angle' ? [9, 3, 2, 3] : [1, 0]"},
                              "opacity": {"value": 1}
                            }
                          }
                        }
                      }}
          }
        },
        {
          "data": {"name": "incoming"},
          "mark": {"type": "point", "shape": "circle", "filled": true, "size": 20, "opacity": 1},
          "encoding": {
            "x": {"field": "x", "type": "quantitative"},
            "y": {"field": "v", "type": "quantitative"},
            "color": {"datum": "Incoming Velocity", "type": "nominal",
                      "legend": {
                        "symbolSize": 1296, "labelOffset": 17,
                        "encode": {
                          "symbols": {
                            "update": {
                              "shape": {"signal": "datum.value === 'Incoming Angle' ? 'stroke' : 'circle'"},
                              "size": {"signal": "datum.value === 'Incoming Angle' ? 1296 : datum.value === 'Rebound Velocity' ? 52 : 12"},
                              "xc": {"signal": "18"},
                              "fill": {"signal": "datum.value === 'Incoming Velocity' ? '#ff0000' : 'transparent'"},
                              "fillOpacity": {"signal": "datum.value === 'Incoming Velocity' ? 1 : 0"},
                              "stroke": {"signal": "datum.value === 'Rebound Velocity' ? '#00ffff' : datum.value === 'Incoming Velocity' ? '#ff0000' : '#555555'"},
                              "strokeDash": {"signal": "datum.value === 'Incoming Angle' ? [9, 3, 2, 3] : [1, 0]"},
                              "opacity": {"value": 1}
                            }
                          }
                        }
                      }}
          }
        },
        {
          "data": {"name": "faces"},
          "mark": {"type": "rule", "strokeDash": [9, 3, 2, 3], "strokeWidth": 1},
          "encoding": {
            "x": {"field": "x", "type": "quantitative"},
            "color": {"datum": "Incoming Angle", "type": "nominal",
                      "legend": {
                        "symbolSize": 1296, "labelOffset": 17,
                        "encode": {
                          "symbols": {
                            "update": {
                              "shape": {"signal": "datum.value === 'Incoming Angle' ? 'stroke' : 'circle'"},
                              "size": {"signal": "datum.value === 'Incoming Angle' ? 1296 : datum.value === 'Rebound Velocity' ? 52 : 12"},
                              "xc": {"signal": "18"},
                              "fill": {"signal": "datum.value === 'Incoming Velocity' ? '#ff0000' : 'transparent'"},
                              "fillOpacity": {"signal": "datum.value === 'Incoming Velocity' ? 1 : 0"},
                              "stroke": {"signal": "datum.value === 'Rebound Velocity' ? '#00ffff' : datum.value === 'Incoming Velocity' ? '#ff0000' : '#555555'"},
                              "strokeDash": {"signal": "datum.value === 'Incoming Angle' ? [9, 3, 2, 3] : [1, 0]"},
                              "opacity": {"value": 1}
                            }
                          }
                        }
                      }}
          }
        },
        {
          "data": {"values": [{}]},
          "mark": {"type": "text", "fontWeight": "bold", "fontSize": 23, "color": "black", "align": "center", "baseline": "middle"},
          "encoding": {"x": {"datum": -11.5}, "y": {"datum": 82.5}, "text": {"value": "COUPON FACE"}}
        },
        {
          "data": {"values": [{}]},
          "mark": {"type": "text", "fontWeight": "bold", "fontSize": 23, "color": "black", "align": "center", "baseline": "middle"},
          "encoding": {"x": {"datum": -11.5}, "y": {"datum": 78.45}, "text": {"value": "(CROSS SECTION)"}}
        },
        {
          "data": {"values": [{}]},
          "mark": {"type": "rule", "color": "black", "strokeWidth": 1},
          "encoding": {"x": {"datum": -20.88}, "y": {"datum": 80.3}, "x2": {"datum": -38.35}, "y2": {"datum": 74.9}}
        },
        {
          "data": {"values": [{}]},
          "mark": {"type": "point", "shape": "M0,0L1,-0.45M0,0L1,0.45", "size": 484, "filled": false, "color": "black", "strokeWidth": 1, "opacity": 1, "angle": 350.5},
          "encoding": {"x": {"datum": -38.35}, "y": {"datum": 74.9}}
        },
        {
          "data": {"values": [{}]},
          "mark": {"type": "rule", "color": "black", "strokeWidth": 1},
          "encoding": {"x": {"datum": -2.05}, "y": {"datum": 80.35}, "x2": {"datum": 14.66}, "y2": {"datum": 74.9}}
        },
        {
          "data": {"values": [{}]},
          "mark": {"type": "point", "shape": "M0,0L1,-0.45M0,0L1,0.45", "size": 484, "filled": false, "color": "black", "strokeWidth": 1, "opacity": 1, "angle": 190},
          "encoding": {"x": {"datum": 14.66}, "y": {"datum": 74.9}}
        },
        {
          "data": {"values": [{}]},
          "mark": {"type": "text", "fontWeight": "bold", "fontSize": 23, "color": "#ff0000", "align": "left", "baseline": "middle"},
          "encoding": {"x": {"datum": -36.2}, "y": {"datum": 21.3}, "text": {"value": "VELOCITY"}}
        },
        {
          "data": {"values": [{}]},
          "mark": {"type": "rule", "color": "#ff0000", "strokeWidth": 3},
          "encoding": {"x": {"datum": -37.1}, "y": {"datum": 21.3}, "x2": {"datum": -44.6}, "y2": {"datum": 21.3}}
        },
        {
          "data": {"values": [{}]},
          "mark": {"type": "point", "shape": "M0,0L1,-0.5M0,0L1,0.5", "size": 784, "filled": false, "color": "#ff0000", "strokeWidth": 3, "opacity": 1, "angle": 0},
          "encoding": {"x": {"datum": -44.6}, "y": {"datum": 21.3}}
        },
        {
          "data": {"values": [{}]},
          "mark": {"type": "text", "fontWeight": "bold", "fontSize": 23, "color": "#ff0000", "align": "left", "baseline": "middle"},
          "encoding": {"x": {"datum": 3.03}, "y": {"datum": 50.7}, "text": {"value": "ANGLE"}}
        },
        {
          "data": {"values": [{}]},
          "mark": {"type": "rule", "color": "#ff0000", "strokeWidth": 3},
          "encoding": {"x": {"datum": 10.53}, "y": {"datum": 50.55}, "x2": {"datum": 17.4}, "y2": {"datum": 50.55}}
        },
        {
          "data": {"values": [{}]},
          "mark": {"type": "point", "shape": "M0,0L1,-0.5M0,0L1,0.5", "size": 784, "filled": false, "color": "#ff0000", "strokeWidth": 3, "opacity": 1, "angle": 180},
          "encoding": {"x": {"datum": 17.4}, "y": {"datum": 50.55}}
        }
      ]
    },
    {
      "data": {"name": "angle"},
      "mark": {"type": "point", "shape": "M-1,0L1,0M0,-1L0,1", "size": 64, "filled": false, "color": "#ff0000", "strokeWidth": 1.4, "opacity": 1},
      "encoding": {
        "x": {"field": "x", "type": "quantitative",
              "scale": {"domain": [-45, 20], "nice": false, "zero": false},
              "axis": {"orient": "top", "values": [-40, -30, -20, -10, 0, 10, 20], "labels": false, "title": null}},
        "y": {"field": "a", "type": "quantitative",
              "scale": {"domain": [0, 90], "nice": false, "zero": false},
              "axis": {"orient": "right", "values": [0, 10, 20, 30, 40, 50, 60, 70, 80, 90],
                       "labelExpr": "datum.value >= 40 ? '' + datum.value : ''",
                       "title": "Incoming Angle (deg)", "titleFontSize": 22, "titlePadding": 1}}
      }
    }
  ],
  "resolve": {"scale": {"x": "independent", "y": "independent"}}
}
